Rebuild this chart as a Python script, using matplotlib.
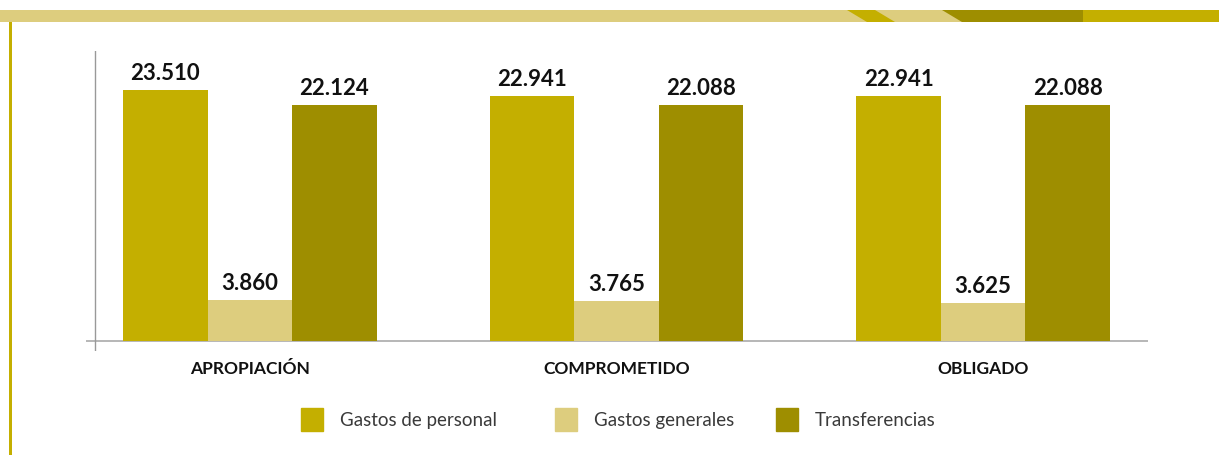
import numpy as np
import matplotlib.pyplot as plt
from matplotlib.patches import Polygon, Rectangle

categories = ['APROPIACIÓN', 'COMPROMETIDO', 'OBLIGADO']
series = ['Gastos de personal', 'Gastos generales', 'Transferencias']
gastos_personal = [23.510, 22.941, 22.941]
gastos_generales = [3.860, 3.765, 3.625]
transferencias = [22.124, 22.088, 22.088]

colors = ['#C4AF00', '#DDCD7E', '#9E8E00']
W, H = 1219, 456

fig = plt.figure(figsize=(W / 100, H / 100), dpi=100)
ax = fig.add_axes([86 / W, 1 - 352 / H, 1062 / W, 300 / H])

x = np.arange(len(categories))
width = 0.2306
values = [gastos_personal, gastos_generales, transferencias]
for i, (vals, col) in enumerate(zip(values, colors)):
    bars = ax.bar(x + (i - 1) * width, vals, width, color=col, zorder=2)
    for b, v in zip(bars, vals):
        ax.annotate(f'{v:.3f}', (b.get_x() + b.get_width() / 2, v),
                    xytext=(0, 5), textcoords='offset points',
                    ha='center', va='bottom', fontsize=16,
                    fontweight='bold', family='Lato', color='#111111')

ax.set_xlim(-0.447, 2.45)
ax.set_ylim(-0.9, 27.15)
for s in ax.spines.values():
    s.set_visible(False)
ax.set_xticks([])
ax.set_yticks([])
ax.axhline(0, color='#aaaaaa', lw=1.2, zorder=1)
ax.axvline(-0.423, color='#999999', lw=1, zorder=1)

for xi, c in zip(x, categories):
    ax.text(xi, -1.7, c, ha='center', va='top', fontsize=12.5,
            fontweight='bold', family='Lato', color='#111111', clip_on=False)

# legend drawn by hand
leg_x = [301, 555, 776]
for lx, name, col in zip(leg_x, series, colors):
    fig.add_artist(Rectangle((lx / W, 1 - 432 / H), 22 / W, 23 / H,
                             transform=fig.transFigure, color=col))
    fig.text((lx + 39) / W, 1 - 421 / H, name, ha='left', va='center',
             fontsize=13.5, family='Lato', color='#3a3a3a')

# decorative band at the top
def fpoly(pts, col):
    fig.add_artist(Polygon([(px / W, 1 - py / H) for px, py in pts],
                           closed=True, transform=fig.transFigure,
                           color=col, lw=0))

fpoly([(0, 11), (W, 11), (W, 23), (0, 23)], '#DDCD7E')
fpoly([(847, 11), (875, 11), (895, 23), (867, 23)], '#C4AF00')
fpoly([(942, 11), (1083, 11), (1083, 23), (962, 23)], '#9E8E00')
fpoly([(1083, 11), (W, 11), (W, 23), (1083, 23)], '#C4AF00')
fpoly([(9, 23), (12, 23), (12, H), (9, H)], '#C4AF00')

fig.savefig('out.png', dpi=100)
